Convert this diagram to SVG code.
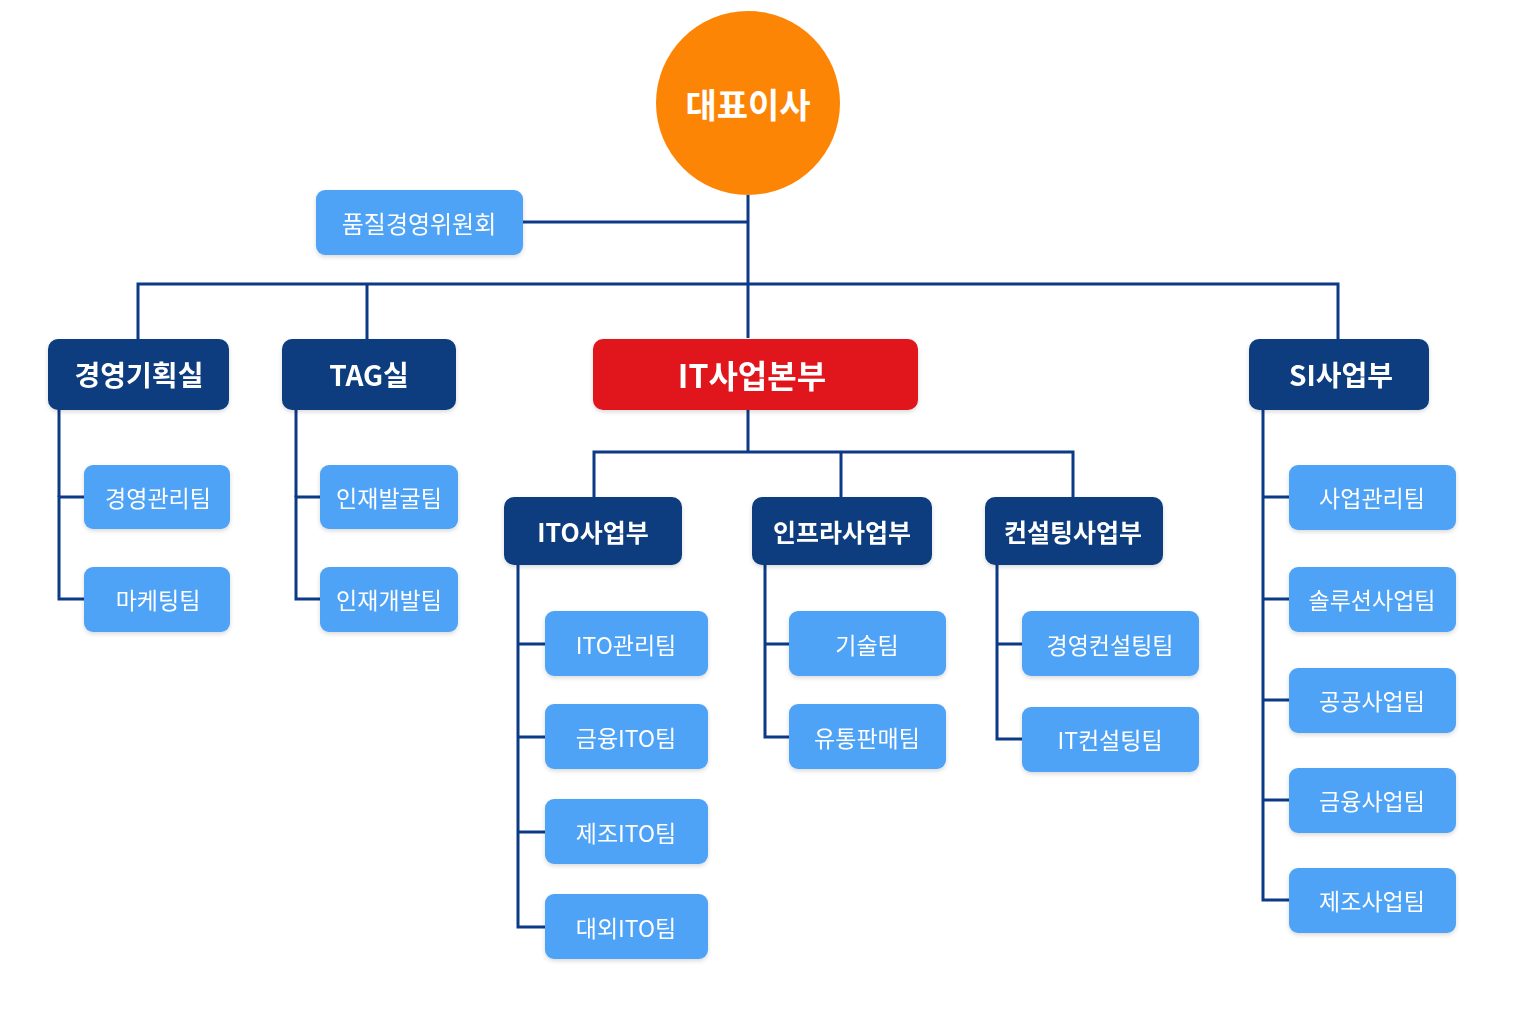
<svg xmlns="http://www.w3.org/2000/svg" width="1536" height="1024" viewBox="0 0 1536 1024">
<style>
.ln{fill:none;stroke:#0d3a86;stroke-width:3;stroke-linejoin:miter}
.dk{fill:#0b3d7e}
.lt{fill:#4fa3f6}
.rd{fill:#e1141d}
.or{fill:#fd8506}
text{font-family:"Noto Sans CJK KR","Noto Sans",sans-serif;fill:#ffffff;text-anchor:middle;dominant-baseline:central}
.t1{font-size:34px;font-weight:700}
.t2{font-size:28px;font-weight:700}
.t6{font-size:25px;font-weight:700}
.t3{font-size:32px;font-weight:700}
.t4{font-size:23px;font-weight:400}
.t5{font-size:24px;font-weight:400}
</style>
<defs>
<filter id="sh" x="-10%" y="-10%" width="120%" height="130%">
<feDropShadow dx="0" dy="2" stdDeviation="2" flood-color="#000" flood-opacity="0.15"/>
</filter>
</defs>
<rect width="1536" height="1024" fill="#ffffff"/>
<g id="connectors">
<path class="ln" d="M748 195V338"/>
<path class="ln" d="M523 222H748"/>
<path class="ln" d="M138 339V284H1338V339"/>
<path class="ln" d="M367 284V339"/>
<path class="ln" d="M748 410V452"/>
<path class="ln" d="M594 497V452H1073V497"/>
<path class="ln" d="M841 452V497"/>
<path class="ln" d="M84 497H59V599H84"/>
<path class="ln" d="M59 410V497"/>
<path class="ln" d="M320 497H296V599H320"/>
<path class="ln" d="M296 410V497"/>
<path class="ln" d="M518 565V927H545"/>
<path class="ln" d="M518 644H545M518 737H545M518 832H545"/>
<path class="ln" d="M765 565V737H789M765 644H789"/>
<path class="ln" d="M997 565V739H1022M997 644H1022"/>
<path class="ln" d="M1263 410V900H1289M1263 497H1289M1263 599H1289M1263 700H1289M1263 800H1289"/>
</g>
<g id="n-ceo"><circle class="or" cx="748" cy="103" r="92"/><text class="t1" x="748" y="103">대표이사</text></g>
<g id="n-quality" filter="url(#sh)"><rect class="lt" x="316" y="190" width="207" height="65" rx="9"/><text class="t5" x="419" y="222">품질경영위원회</text></g>
<g id="n-plan" filter="url(#sh)"><rect class="dk" x="48" y="339" width="181" height="71" rx="10"/><text class="t2" x="139" y="374">경영기획실</text></g>
<g id="n-tag" filter="url(#sh)"><rect class="dk" x="282" y="339" width="174" height="71" rx="10"/><text class="t2" x="369" y="374">TAG실</text></g>
<g id="n-it" filter="url(#sh)"><rect class="rd" x="593" y="339" width="325" height="71" rx="10"/><text class="t3" x="752" y="374">IT사업본부</text></g>
<g id="n-si" filter="url(#sh)"><rect class="dk" x="1249" y="339" width="180" height="71" rx="10"/><text class="t2" x="1341" y="374">SI사업부</text></g>
<g id="n-mgmt" filter="url(#sh)"><rect class="lt" x="84" y="465" width="146" height="64" rx="9"/><text class="t4" x="158" y="497">경영관리팀</text></g>
<g id="n-mkt" filter="url(#sh)"><rect class="lt" x="84" y="567" width="146" height="65" rx="9"/><text class="t4" x="158" y="599">마케팅팀</text></g>
<g id="n-hr1" filter="url(#sh)"><rect class="lt" x="320" y="465" width="138" height="64" rx="9"/><text class="t4" x="389" y="497">인재발굴팀</text></g>
<g id="n-hr2" filter="url(#sh)"><rect class="lt" x="320" y="567" width="138" height="65" rx="9"/><text class="t4" x="389" y="599">인재개발팀</text></g>
<g id="n-ito" filter="url(#sh)"><rect class="dk" x="504" y="497" width="178" height="68" rx="10"/><text class="t6" x="593" y="531">ITO사업부</text></g>
<g id="n-infra" filter="url(#sh)"><rect class="dk" x="752" y="497" width="180" height="68" rx="10"/><text class="t6" x="842" y="531">인프라사업부</text></g>
<g id="n-consult" filter="url(#sh)"><rect class="dk" x="985" y="497" width="178" height="68" rx="10"/><text class="t6" x="1073" y="531">컨설팅사업부</text></g>
<g id="n-ito1" filter="url(#sh)"><rect class="lt" x="545" y="611" width="163" height="65" rx="9"/><text class="t4" x="626" y="644">ITO관리팀</text></g>
<g id="n-ito2" filter="url(#sh)"><rect class="lt" x="545" y="704" width="163" height="65" rx="9"/><text class="t4" x="626" y="737">금융ITO팀</text></g>
<g id="n-ito3" filter="url(#sh)"><rect class="lt" x="545" y="799" width="163" height="65" rx="9"/><text class="t4" x="626" y="832">제조ITO팀</text></g>
<g id="n-ito4" filter="url(#sh)"><rect class="lt" x="545" y="894" width="163" height="65" rx="9"/><text class="t4" x="626" y="927">대외ITO팀</text></g>
<g id="n-tech" filter="url(#sh)"><rect class="lt" x="789" y="611" width="157" height="65" rx="9"/><text class="t4" x="867" y="644">기술팀</text></g>
<g id="n-dist" filter="url(#sh)"><rect class="lt" x="789" y="704" width="157" height="65" rx="9"/><text class="t4" x="867" y="737">유통판매팀</text></g>
<g id="n-mc" filter="url(#sh)"><rect class="lt" x="1022" y="611" width="177" height="65" rx="9"/><text class="t4" x="1110" y="644">경영컨설팅팀</text></g>
<g id="n-itc" filter="url(#sh)"><rect class="lt" x="1022" y="707" width="177" height="65" rx="9"/><text class="t4" x="1110" y="739">IT컨설팅팀</text></g>
<g id="n-si1" filter="url(#sh)"><rect class="lt" x="1289" y="465" width="167" height="65" rx="9"/><text class="t4" x="1372" y="497">사업관리팀</text></g>
<g id="n-si2" filter="url(#sh)"><rect class="lt" x="1289" y="567" width="167" height="65" rx="9"/><text class="t4" x="1372" y="599">솔루션사업팀</text></g>
<g id="n-si3" filter="url(#sh)"><rect class="lt" x="1289" y="668" width="167" height="65" rx="9"/><text class="t4" x="1372" y="700">공공사업팀</text></g>
<g id="n-si4" filter="url(#sh)"><rect class="lt" x="1289" y="768" width="167" height="65" rx="9"/><text class="t4" x="1372" y="800">금융사업팀</text></g>
<g id="n-si5" filter="url(#sh)"><rect class="lt" x="1289" y="868" width="167" height="65" rx="9"/><text class="t4" x="1372" y="900">제조사업팀</text></g>
</svg>
